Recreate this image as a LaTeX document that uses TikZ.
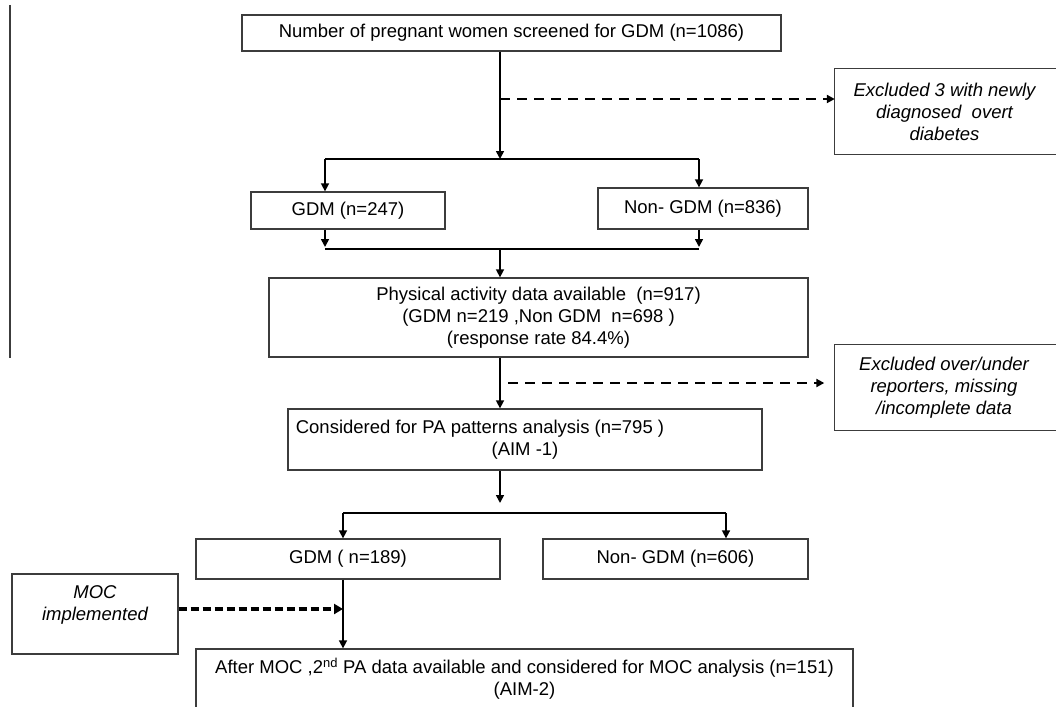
\documentclass[tikz,border=0pt]{standalone}
\usepackage{fontspec}
\setmainfont{Liberation Sans}
\usetikzlibrary{arrows.meta}
\definecolor{boxcol}{HTML}{3C3C3C}
\tikzset{
  box/.style={draw=boxcol, line width=1.3pt, inner sep=0pt, align=center,
    font=\fontsize{18.5}{22}\selectfont, text=black},
  ibox/.style={box, font=\fontsize{18.5}{22}\selectfont\itshape},
  tbox/.style={inner sep=0pt, align=center, font=\fontsize{18.5}{22}\selectfont\itshape},
  border/.style={draw=boxcol, line width=1.3pt},
  arr/.style={draw=black, line width=1.6pt, -{Triangle[length=8pt,width=8pt]}},
  ln/.style={draw=black, line width=1.6pt},
  dasharr/.style={draw=black, line width=2.2pt, dash pattern=on 10pt off 7pt,
    -{Triangle[length=8pt,width=8pt]}},
  thickdash/.style={draw=black, line width=3.2pt, dash pattern=on 8pt off 4pt,
    -{Triangle[length=9pt,width=10pt]}},
}
\begin{document}
\begin{tikzpicture}[x=1pt, y=-1pt]
\useasboundingbox (0,0) rectangle (1056,706);
\clip (0,0) rectangle (1056,706);

% left margin line
\coordinate (lt) at (10,5);
\coordinate (lb) at (10,358);
\draw[draw=boxcol, line width=1.5pt] (lt) -- (lb);

% boxes
\node[box, minimum width=539, minimum height=36] (top) at (511.5,33)
  {Number of pregnant women screened for GDM (n=1086)};

\node[tbox, minimum width=219, minimum height=85] (exc1) at (944.5,111.5)
  {Excluded 3 with newly\\diagnosed\ \ overt\\diabetes};
\draw[border] (exc1.north west) rectangle ([xshift=20pt]exc1.south east);

\node[box, minimum width=194, minimum height=37] (gdm1) at (348,210.5)
  {GDM (n=247)};
\node[box, minimum width=210, minimum height=41] (ngdm1) at (703,208.5)
  {Non- GDM (n=836)};

\node[box, minimum width=539, minimum height=79] (pa) at (538.5,317.5)
  {Physical activity data available\ \ (n=917)\\(GDM n=219 ,Non GDM\ \ n=698 )\\(response rate 84.4\%)};

\node[tbox, minimum width=219, minimum height=85] (exc2) at (944,387.5)
  {Excluded over/under\\reporters, missing\\/incomplete data};
\draw[border] (exc2.north west) rectangle ([xshift=20pt]exc2.south east);

\node[box, minimum width=474, minimum height=61] (cons) at (525,439.5)
  {\hspace*{-90pt}Considered for PA patterns analysis (n=795 )\\(AIM -1)};

\node[box, minimum width=304, minimum height=40] (gdm2) at (348,559)
  {GDM ( n=189)};
\node[box, minimum width=265, minimum height=40] (ngdm2) at (675.5,559)
  {Non- GDM (n=606)};

\node[ibox, minimum width=166, minimum height=80] (moc) at (95,614)
  {MOC\\implemented\\\mbox{}};

\node[box, minimum width=657, minimum height=60] (after) at (524.5,679)
  {After MOC ,2\textsuperscript{nd} PA data available and considered for MOC analysis (n=151)\\(AIM-2)};

% junction coordinates
\coordinate (j1) at (500,159);
\coordinate (b1L) at (325,159);
\coordinate (b1R) at (699,159);
\coordinate (d1) at (500,99);
\coordinate (m1L) at (325,249);
\coordinate (m1R) at (699,249);
\coordinate (j2) at (500,249);
\coordinate (d2) at (508,383);
\coordinate (j3) at (500,503);
\coordinate (b3L) at (343,513);
\coordinate (b3R) at (726,513);
\coordinate (d3) at (343,609);

% connectors
\draw[arr] (top.south -| j1) -- (j1);
\draw[dasharr] (d1) -- (d1 -| exc1.west);
\draw[ln] (b1L) -- (b1R);
\draw[arr] (b1L) -- (b1L |- gdm1.north);
\draw[arr] (b1R) -- (b1R |- ngdm1.north);
\draw[arr] (b1L |- gdm1.south) -- ([yshift=2pt]m1L);
\draw[arr] (b1R |- ngdm1.south) -- ([yshift=2pt]m1R);
\draw[ln] (m1L) -- (m1R);
\draw[arr] (j2) -- (j2 |- pa.north);
\draw[arr] (pa.south -| j2) -- (j2 |- cons.north);
\draw[dasharr, shorten >=10pt] (d2) -- (d2 -| exc2.west);
\draw[arr] (cons.south -| j3) -- (j3);
\draw[ln] (b3L) -- (b3R);
\draw[arr] (b3L) -- (b3L |- gdm2.north);
\draw[arr] (b3R) -- (b3R |- ngdm2.north);
\draw[arr] (gdm2.south -| b3L) -- (b3L |- after.north);
\draw[thickdash] (moc.east |- d3) -- (d3);
\end{tikzpicture}
\end{document}
